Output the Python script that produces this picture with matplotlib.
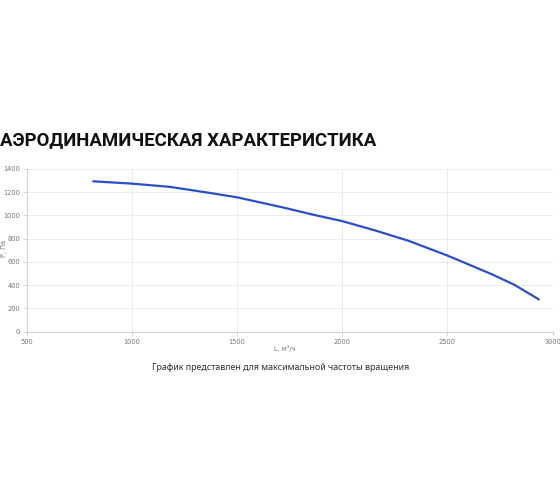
import matplotlib
matplotlib.use("Agg")
import matplotlib.pyplot as plt

L_values = [815, 1000, 1180, 1370, 1500, 1715, 1875, 2000, 2160, 2315, 2500, 2710, 2820, 2935]
P_values = [1294, 1274, 1246, 1194, 1156, 1070, 1001, 951, 869, 782, 655, 495, 402, 277]
x_ticks = [500, 1000, 1500, 2000, 2500, 3000]
y_ticks = [0, 200, 400, 600, 800, 1000, 1200, 1400]

title = "АЭРОДИНАМИЧЕСКАЯ ХАРАКТЕРИСТИКА"
caption = "График представлен для максимальной частоты вращения"
x_label = "L, м³/ч"
y_label = "P, Па"

W, H = 560, 504
fig = plt.figure(figsize=(W / 100, H / 100), dpi=100)
fig.patch.set_facecolor("white")

ax = fig.add_axes([27 / W, 1 - 331.6 / H, (552.5 - 27) / W, (331.6 - 169) / H])
ax.plot(L_values, P_values, color="#2a4fc9", lw=1.6, solid_capstyle="round",
        solid_joinstyle="round")
ax.set_xlim(500, 3000)
ax.set_ylim(0, 1400)
ax.set_xticks(x_ticks)
ax.set_yticks(y_ticks)
ax.grid(True, color="#ececec", lw=0.7)
ax.set_axisbelow(True)
for s in ["top", "right"]:
    ax.spines[s].set_visible(False)
for s in ["left", "bottom"]:
    ax.spines[s].set_color("#d6d6d6")
    ax.spines[s].set_linewidth(0.8)
ax.tick_params(axis="both", labelsize=4.8, labelcolor="#777777", color="#d6d6d6",
               length=3, width=0.7, pad=2)

fig.text(285 / W, 1 - 349 / H, x_label, ha="center", va="center",
         fontsize=4.8, color="#777777")
fig.text(4 / W, 1 - 248 / H, y_label, ha="center", va="center",
         fontsize=4.8, color="#777777", rotation=90)

fig.text(0 / W, 1 - 140 / H, title, ha="left", va="center",
         fontsize=13.4, fontweight="bold", color="#111111",
         family=["Roboto", "DejaVu Sans"])
fig.text(281 / W, 1 - 368 / H, caption, ha="center", va="center",
         fontsize=6.4, fontweight="medium", color="#333333", family=["Noto Sans", "DejaVu Sans"])

fig.savefig("out.png", dpi=100, facecolor="white")
